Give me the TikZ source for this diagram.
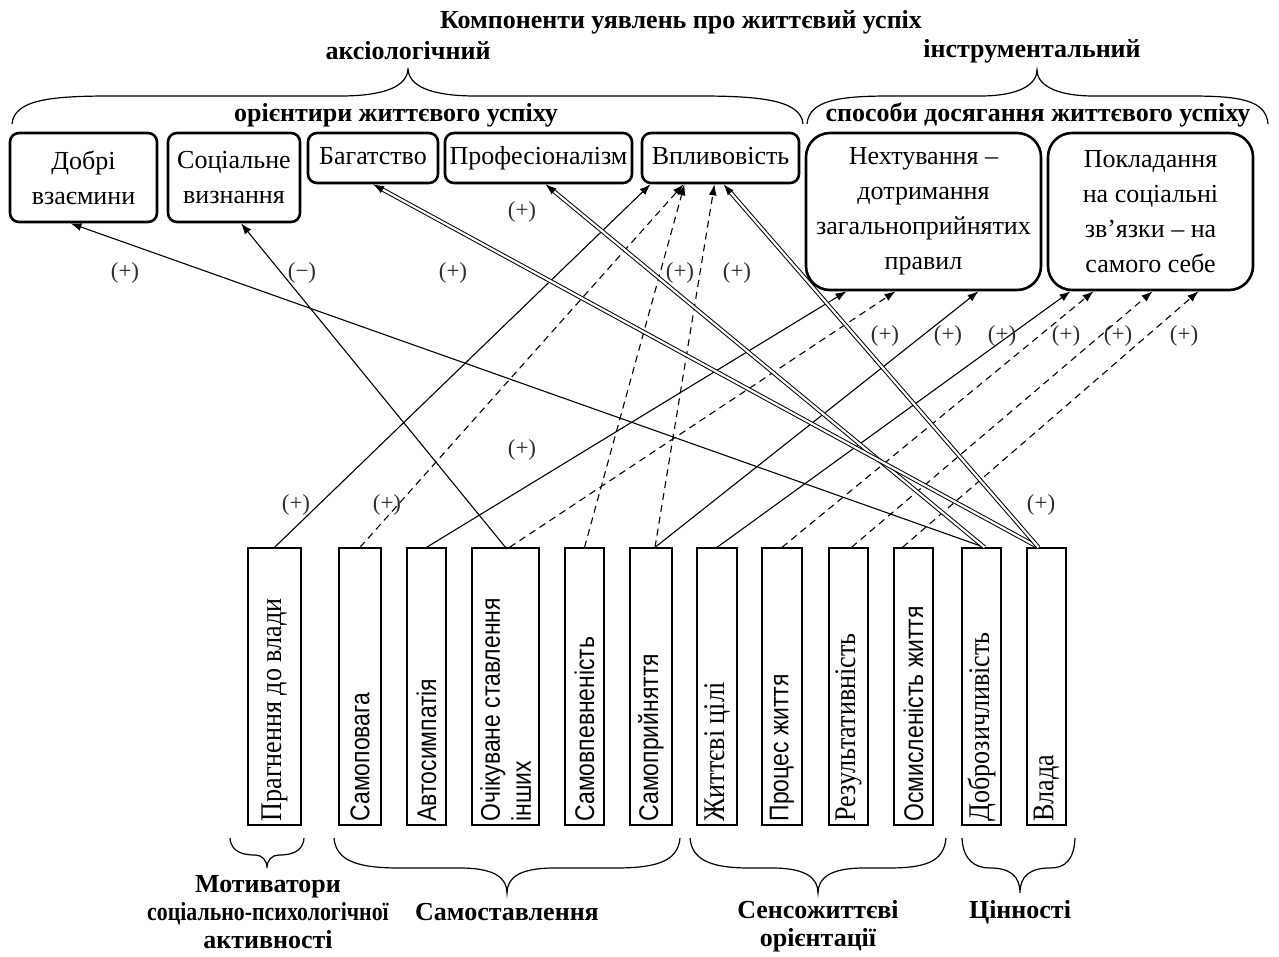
\documentclass[tikz,border=0pt]{standalone}
\usepackage{fontspec}
\setmainfont{Liberation Serif}
\newfontfamily\tallserif{Liberation Serif}[FakeStretch=0.87]
\newfontfamily\tallsans{Liberation Sans}[FakeStretch=0.85]
\newfontfamily\narrowserif{Liberation Serif}[FakeStretch=0.84]
\usepackage{tikz}
\usetikzlibrary{arrows.meta, positioning, calc}
\definecolor{signgray}{RGB}{45, 45, 45}

\begin{document}
\begin{tikzpicture}[x=1pt, y=-1pt,
  goal/.style={draw, line width=2.6pt, rounded corners=9pt, align=center, inner sep=0pt,
    font=\fontsize{26}{35}\selectfont},
  oneline/.style={goal, text height=18pt, text depth=6pt},
  way/.style={goal, rounded corners=24pt},
  factor/.style={draw, line width=1.3pt, minimum height=277pt, inner sep=0pt},
  vserif/.style={rotate=90, anchor=west, inner sep=0pt, align=left, font=\tallserif\fontsize{30}{32}\selectfont},
  vsans/.style={vserif, font=\tallsans\fontsize{27}{31}\selectfont},
  link/.style={line width=1.1pt, -{Latex[length=11pt,width=8pt]}},
  dlink/.style={link, dash pattern=on 7pt off 5pt},
  wlink/.style={link, double, double distance=2.2pt, line width=1pt},
  sign/.style={font=\fontsize{23}{23}\selectfont, text=signgray},
  group/.style={font=\bfseries\fontsize{26}{28}\selectfont, align=center},
  curly/.style={line width=1.2pt}
]
  \useasboundingbox (0,0) rectangle (1279,956);

  % headings
  \node[group] (title) at (681,22) {Компоненти уявлень про життєвий успіх};
  \node[group] (axio) at (408,51) {аксіологічний};
  \node[group] (instr) at (1032,51) {інструментальний};
  \node[group] (orient) at (396,115) {орієнтири життєвого успіху};
  \node[group] (ways) at (1038,115) {способи досягання життєвого успіху};

  % braces on top
  \draw[curly] (12,124) .. controls (14,100) and (50,96) .. (110,96) -- (340,96)
    .. controls (390,96) and (408,84) .. (408,68) .. controls (408,84) and (426,96) .. (476,96)
    -- (700,96) .. controls (760,96) and (801,100) .. (803,124);
  \draw[curly] (807,124) .. controls (809,100) and (840,96) .. (890,96) -- (980,96)
    .. controls (1020,96) and (1037,84) .. (1037,70) .. controls (1037,84) and (1054,96) .. (1094,96)
    -- (1190,96) .. controls (1240,96) and (1266,100) .. (1268,124);

  % success components
  \node[goal, minimum width=147pt, minimum height=89pt] (dobri) at (83.5,177.5) {Добрі\\взаємини};
  \node[goal, minimum width=132pt, minimum height=89pt] (social) at (234,177.5) {Соціальне\\визнання};
  \node[oneline, minimum width=130pt, minimum height=50pt] (wealth) at (373,158) {Багатство};
  \node[oneline, minimum width=187pt, minimum height=50pt] (prof) at (538.5,158) {Професіоналізм};
  \node[oneline, minimum width=157pt, minimum height=50pt] (influ) at (720.5,158) {Впливовість};
  \node[way, minimum width=235pt, minimum height=157pt] (neglect) at (923.5,211.5)
    {Нехтування –\\дотримання\\загальноприйнятих\\правил};
  \node[way, minimum width=205pt, minimum height=157pt] (relian) at (1150.5,211.5)
    {Покладання\\на соціальні\\зв’язки – на\\самого себе};

  % factors
  \node[factor, minimum width=53pt] (prag) at (274.5,686.5) {};
  \node[factor, minimum width=42pt] (selfres) at (360,686.5) {};
  \node[factor, minimum width=39pt] (autos) at (426.5,686.5) {};
  \node[factor, minimum width=67pt] (expect) at (505.5,686.5) {};
  \node[factor, minimum width=39pt] (confid) at (584.5,686.5) {};
  \node[factor, minimum width=42pt] (accept) at (651,686.5) {};
  \node[factor, minimum width=40pt] (goals) at (717,686.5) {};
  \node[factor, minimum width=40pt] (process) at (782,686.5) {};
  \node[factor, minimum width=39pt] (result) at (848.5,686.5) {};
  \node[factor, minimum width=39pt] (meaning) at (913.5,686.5) {};
  \node[factor, minimum width=39pt] (kind) at (981.5,686.5) {};
  \node[factor, minimum width=39pt] (power) at (1046.5,686.5) {};

  \node[vserif] (pragT) at ([yshift=4pt]prag.south) {Прагнення до влади};
  \node[vsans] (selfresT) at ([yshift=4pt]selfres.south) {Самоповага};
  \node[vsans] (autosT) at ([yshift=4pt]autos.south) {Автосимпатія};
  \node[vsans] (expectT) at ([yshift=4pt]expect.south) {Очікуване ставлення\\інших};
  \node[vsans] (confidT) at ([yshift=4pt]confid.south) {Самовпевненість};
  \node[vsans] (acceptT) at ([yshift=4pt]accept.south) {Самоприйняття};
  \node[vserif] (goalsT) at ([yshift=4pt]goals.south) {Життєві цілі};
  \node[vsans] (processT) at ([yshift=4pt]process.south) {Процес життя};
  \node[vserif] (resultT) at ([yshift=4pt]result.south) {Результативність};
  \node[vsans] (meaningT) at ([yshift=4pt]meaning.south) {Осмисленість життя};
  \node[vserif] (kindT) at ([yshift=4pt]kind.south) {Доброзичливість};
  \node[vserif] (powerT) at ([yshift=4pt]power.south) {Влада};

  % links
  \draw[link] (prag.north) -- ([xshift=-70pt]influ.south);
  \draw[dlink] (selfres.north) -- ([xshift=-37pt]influ.south);
  \draw[link] (autos.north) -- ([xshift=-77pt]neglect.south);
  \draw[link] (expect.north) -- ([xshift=7pt]social.south);
  \draw[dlink] ([xshift=4pt]expect.north) -- ([xshift=-28pt]neglect.south);
  \draw[dlink] (confid.north) -- ([xshift=-36pt]influ.south);
  \draw[dlink] ([xshift=4pt]accept.north) -- ([xshift=-6pt]influ.south);
  \draw[link] ([xshift=4pt]accept.north) -- ([xshift=55pt]neglect.south);
  \draw[link] (goals.north) -- ([xshift=-80pt]relian.south);
  \draw[dlink] (process.north) -- ([xshift=-57pt]relian.south);
  \draw[dlink] ([xshift=3pt]result.north) -- ([xshift=2pt]relian.south);
  \draw[dlink] ([xshift=-11pt]meaning.north) -- ([xshift=48pt]relian.south);
  \draw[link] ([xshift=3pt]kind.north) -- ([xshift=-13pt]dobri.south);
  \draw[wlink] ([xshift=3pt]kind.north) -- ([xshift=7pt]prof.south);
  \draw[wlink] ([xshift=-8pt]power.north) -- (wealth.south);
  \draw[wlink] ([xshift=-8pt]power.north) -- ([xshift=3pt]influ.south);

  % signs
  \node[sign] (s1) at (125,273) {(+)};
  \node[sign] (s2) at (302,273) {(−)};
  \node[sign] (s3) at (453,273) {(+)};
  \node[sign] (s4) at (680,273) {(+)};
  \node[sign] (s5) at (737,273) {(+)};
  \node[sign] (s6) at (522,212) {(+)};
  \node[sign] (s7) at (885,336) {(+)};
  \node[sign] (s8) at (948,336) {(+)};
  \node[sign] (s9) at (1002,336) {(+)};
  \node[sign] (s10) at (1066,336) {(+)};
  \node[sign] (s11) at (1118,336) {(+)};
  \node[sign] (s12) at (1184,336) {(+)};
  \node[sign] (s13) at (522,450) {(+)};
  \node[sign] (s14) at (296,505) {(+)};
  \node[sign] (s15) at (387,505) {(+)};
  \node[sign] (s16) at (1041,505) {(+)};

  % braces below
  \draw[curly] (230,838) .. controls (231,853) and (245,855) .. (255,855)
    .. controls (262,855) and (267,860) .. (267,868) .. controls (267,860) and (272,855) .. (279,855)
    .. controls (289,855) and (303,853) .. (304,838);
  \draw[curly] (334,838) .. controls (336,862) and (360,868) .. (400,868) -- (460,868)
    .. controls (495,868) and (507,878) .. (507,893) .. controls (507,878) and (519,868) .. (554,868)
    -- (615,868) .. controls (655,868) and (678,862) .. (680,838);
  \draw[curly] (690,838) .. controls (692,862) and (715,868) .. (750,868) -- (772,868)
    .. controls (806,868) and (818,878) .. (818,893) .. controls (818,878) and (830,868) .. (864,868)
    -- (888,868) .. controls (925,868) and (944,862) .. (946,838);
  \draw[curly] (962,838) .. controls (963,860) and (975,868) .. (990,868)
    .. controls (1010,868) and (1020,876) .. (1020,893) .. controls (1020,876) and (1030,868) .. (1050,868)
    .. controls (1065,868) and (1074,860) .. (1075,838);

  \node[group] (motiv) at (268,912) {Мотиватори\\{\narrowserif\bfseries соціально-психологічної}\\активності};
  \node[group] (samost) at (507,912) {Самоставлення};
  \node[group] (sens) at (818,926) {Сенсожиттєві\\орієнтації};
  \node[group] (tsinn) at (1020,912) {Цінності};
\end{tikzpicture}
\end{document}
